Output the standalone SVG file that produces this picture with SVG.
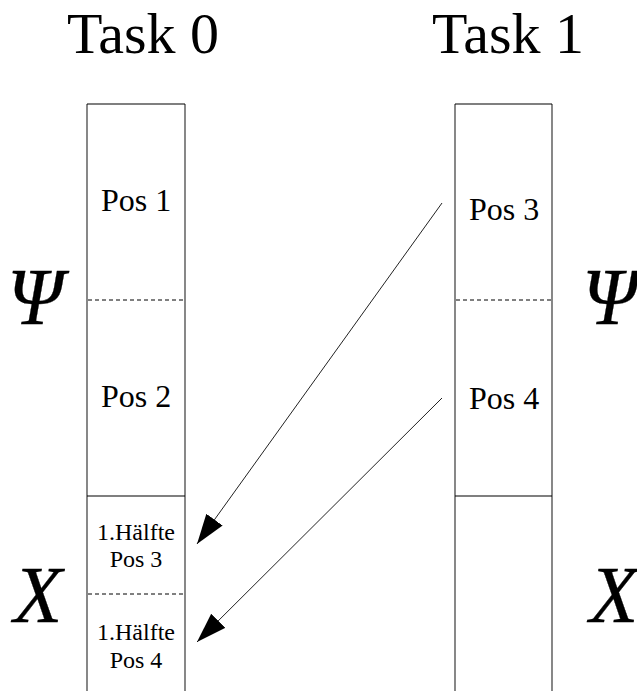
<svg xmlns="http://www.w3.org/2000/svg" width="637" height="691" viewBox="0 0 637 691">
  <style>
    .t { font-family: "Liberation Serif", "Times New Roman", serif; fill: #000; text-anchor: middle; }
    .title { font-size: 58px; }
    .pos { font-size: 32px; }
    .small { font-size: 24px; }
    .sym { font-size: 80px; font-style: italic; stroke: #000; stroke-width: 0.3; }
    .side { stroke: #6a6a6a; stroke-width: 1.6; fill: none; }
    .rule { stroke: #000; stroke-width: 1.2; fill: none; }
    .dash { stroke: #000; stroke-width: 1; stroke-dasharray: 4 3; fill: none; }
    .conn { stroke: #222; stroke-width: 1; fill: none; }
  </style>
  <defs>
    <marker id="head" viewBox="0 0 30 20" refX="30" refY="10" markerWidth="30" markerHeight="20" markerUnits="userSpaceOnUse" orient="auto">
      <path d="M0,0 L30,10 L0,20 Z" fill="#000"/>
    </marker>
  </defs>
  <rect width="637" height="691" fill="#fff"/>

  <text class="t title" x="143" y="53">Task 0</text>
  <text class="t title" x="508" y="53">Task 1</text>

  <text class="t sym" x="35" y="324">Ψ</text>
  <text class="t sym" x="38" y="622">X</text>
  <text class="t sym" x="610" y="324">Ψ</text>
  <text class="t sym" x="614" y="622">X</text>

  <g id="task0">
    <line class="side" x1="87" y1="104" x2="87" y2="691"/>
    <line class="side" x1="185" y1="104" x2="185" y2="691"/>
    <line class="rule" x1="87" y1="104" x2="185" y2="104"/>
    <line class="dash" x1="88" y1="300" x2="184" y2="300"/>
    <line class="rule" x1="87" y1="496" x2="185" y2="496"/>
    <line class="dash" x1="88" y1="594" x2="184" y2="594"/>
    <text class="t pos" x="136" y="211">Pos 1</text>
    <text class="t pos" x="136" y="407">Pos 2</text>
    <text class="t small" x="136" y="540">1.Hälfte</text>
    <text class="t small" x="136" y="567">Pos 3</text>
    <text class="t small" x="136" y="640">1.Hälfte</text>
    <text class="t small" x="136" y="668">Pos 4</text>
  </g>

  <g id="task1">
    <line class="side" x1="455" y1="104" x2="455" y2="691"/>
    <line class="side" x1="552" y1="104" x2="552" y2="691"/>
    <line class="rule" x1="455" y1="104" x2="552" y2="104"/>
    <line class="dash" x1="456" y1="300" x2="551" y2="300"/>
    <line class="rule" x1="455" y1="496" x2="552" y2="496"/>
    <text class="t pos" x="504" y="220">Pos 3</text>
    <text class="t pos" x="504" y="409">Pos 4</text>
  </g>

  <g id="connectors">
    <line class="conn" x1="442" y1="203" x2="197" y2="544" marker-end="url(#head)"/>
    <line class="conn" x1="442" y1="398" x2="197" y2="642" marker-end="url(#head)"/>
  </g>
</svg>
